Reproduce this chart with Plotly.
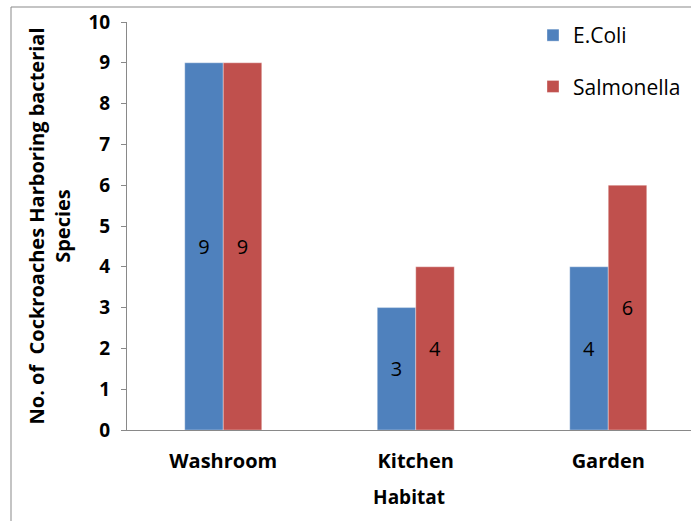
import plotly.graph_objects as go

habitats = ["Washroom", "Kitchen", "Garden"]
ecoli = [9, 3, 4]
salmonella = [9, 4, 6]
series_names = ["E.Coli", "Salmonella"]
colors = ["#4F81BD", "#C0504D"]
y_ticks = list(range(0, 11))

FONT = "Open Sans"

fig = go.Figure()
for name, vals, col in zip(series_names, [ecoli, salmonella], colors):
    fig.add_trace(go.Bar(
        x=habitats, y=vals, name=name,
        marker=dict(color=col, line=dict(color="rgba(255,255,255,0.35)", width=1)),
        text=[str(v) for v in vals], textposition="inside", insidetextanchor="middle",
        textfont=dict(family=FONT, size=20, color="black"),
        textangle=0, legendgroup=name,
    ))

L, T, R, B = 127, 22, 0, 91
W, H = 691, 521
pw, ph = W - L - R, H - T - B

def px_to_paper_x(x):
    return (x - L) / pw

def px_to_paper_y(y):
    return (H - B - y) / ph

band = 192.5
fig.update_layout(
    width=W, height=H,
    margin=dict(l=L, r=R, t=T, b=B, pad=0),
    paper_bgcolor="white", plot_bgcolor="white",
    font=dict(family=FONT, color="black"),
    bargap=0.6, bargroupgap=0,
    showlegend=True,
    legend=dict(
        x=px_to_paper_x(533), y=px_to_paper_y(15), xanchor="left", yanchor="top",
        font=dict(family=FONT, size=21, color="black"),
        tracegroupgap=21, itemwidth=30, bgcolor="rgba(0,0,0,0)",
    ),
    xaxis=dict(
        range=[-0.5, -0.5 + pw / band],
        showline=True, linecolor="#898989", linewidth=1,
        ticks="", tickfont=dict(family=FONT, size=20, color="black", weight="bold"),
        ticklabelstandoff=13,
        title=dict(text="<b>Habitat</b>", font=dict(family=FONT, size=19, color="black"), standoff=17),
        fixedrange=True,
    ),
    yaxis=dict(
        range=[0, 10], tickvals=y_ticks, ticktext=[str(v) for v in y_ticks],
        showline=True, linecolor="#898989", linewidth=1,
        ticks="outside", ticklen=5, tickcolor="#898989",
        showgrid=False, zeroline=False,
        tickfont=dict(family=FONT, size=19, color="black", weight="bold"),
        ticklabelstandoff=7,
        title=dict(text="<b>No. of  Cockroaches Harboring bacterial<br>Species</b>",
                   font=dict(family=FONT, size=20, color="black"), standoff=12),
        fixedrange=True,
    ),
    shapes=[dict(type="rect", xref="paper", yref="paper",
                 x0=px_to_paper_x(11), x1=px_to_paper_x(760),
                 y0=px_to_paper_y(600), y1=px_to_paper_y(7),
                 line=dict(color="#898989", width=1), fillcolor="rgba(0,0,0,0)", layer="below")],
)

fig.write_html("out.html")
